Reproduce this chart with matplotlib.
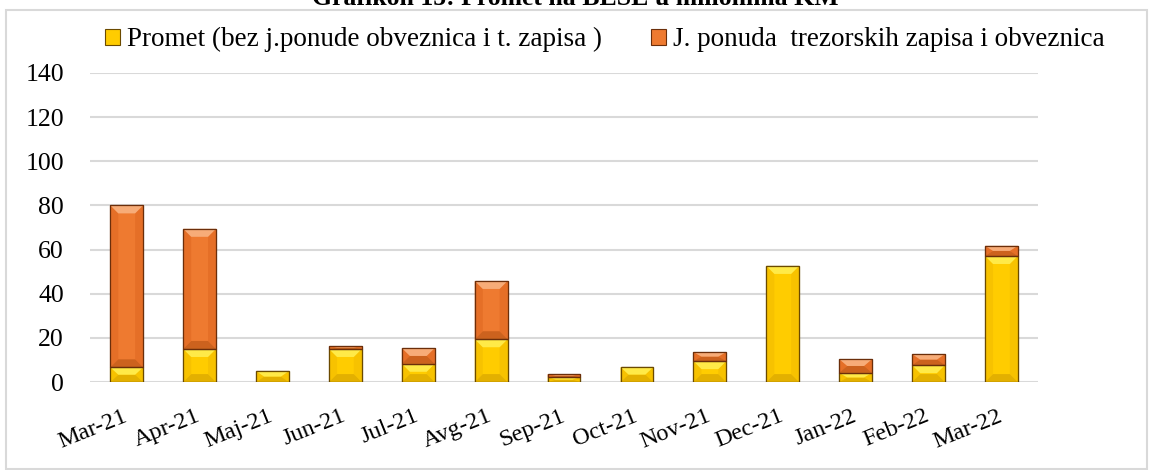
import numpy as np
import matplotlib.pyplot as plt
import matplotlib.transforms as mtransforms
from matplotlib.patches import Rectangle, Polygon

plt.rcParams['font.family'] = ['Liberation Serif', 'DejaVu Serif']

months = ['Mar-21', 'Apr-21', 'Maj-21', 'Jun-21', 'Jul-21', 'Avg-21', 'Sep-21',
          'Oct-21', 'Nov-21', 'Dec-21', 'Jan-22', 'Feb-22', 'Mar-22']
promet = [6.7, 15.0, 5.0, 15.0, 8.3, 19.4, 2.3, 6.8, 9.5, 52.6, 4.2, 7.7, 57.1]
ponuda = [73.3, 54.4, 0.0, 1.3, 7.1, 26.4, 1.3, 0.0, 4.1, 0.0, 6.2, 5.0, 4.6]

label_promet = 'Promet (bez j.ponude obveznica i t. zapisa )'
label_ponuda = 'J. ponuda  trezorskih zapisa i obveznica'

# colours: mid, top bevel, bottom bevel, sides, edge
yel = ('#FFCC00', '#FFEA48', '#E3B000', '#F7C200', '#6b4a00')
ora = ('#EE7A30', '#F7AC78', '#CC621E', '#E56F27', '#6b2e0a')

fig = plt.figure(figsize=(11.5, 4.7), dpi=100)
ax = fig.add_axes([0.0785, 0.187, 0.824, 0.658])

x = np.arange(len(months))
w = 0.45
b1 = ax.bar(x, promet, w, color=yel[0], edgecolor=yel[4], linewidth=0.8,
            label=label_promet, zorder=3)
b2 = ax.bar(x, ponuda, w, bottom=promet, color=ora[0], edgecolor=ora[4],
            linewidth=0.8, label=label_ponuda, zorder=3)

ax.set_xlim(-0.5, len(months) - 0.5)
ax.set_ylim(0, 140)

# bevel look, sizes in pixels converted to data units
px_x = 1.0 / 72.85
px_y = 140.0 / 309.0


def bevel(rect, cols):
    h = rect.get_height()
    if h <= 0:
        return
    x0 = rect.get_x()
    x1 = x0 + rect.get_width()
    y0 = rect.get_y()
    y1 = y0 + h
    dv = min(8 * px_y, h / 2)
    dh = min(8 * px_x, rect.get_width() / 2)
    top = [(x0, y1), (x1, y1), (x1 - dh, y1 - dv), (x0 + dh, y1 - dv)]
    bot = [(x0, y0), (x1, y0), (x1 - dh, y0 + dv), (x0 + dh, y0 + dv)]
    left = [(x0, y0), (x0, y1), (x0 + dh, y1 - dv), (x0 + dh, y0 + dv)]
    right = [(x1, y0), (x1, y1), (x1 - dh, y1 - dv), (x1 - dh, y0 + dv)]
    for pts, c in [(left, cols[3]), (right, cols[3]), (bot, cols[2]), (top, cols[1])]:
        ax.add_patch(Polygon(pts, closed=True, facecolor=c, edgecolor='none', zorder=3.5))
    ax.add_patch(Rectangle((x0, y0), x1 - x0, h, fill=False, edgecolor=cols[4],
                           linewidth=0.9, zorder=3.6))


for r in b1:
    bevel(r, yel)
for r in b2:
    bevel(r, ora)

ax.set_yticks(range(0, 141, 20))
ax.yaxis.grid(True, color='#d9d9d9', linewidth=1.5, zorder=0)
ax.set_axisbelow(True)
for s in ax.spines.values():
    s.set_visible(False)
ax.tick_params(axis='both', length=0)
ax.tick_params(axis='y', pad=19, labelsize=18.5)
ax.set_xticks(x)
ax.set_xticklabels(months, rotation=22, ha='right', rotation_mode='anchor', fontsize=17.5)
ax.tick_params(axis='x', pad=17)
shift = mtransforms.ScaledTranslation(-3 / 72, 0, fig.dpi_scale_trans)
for lab in ax.get_xticklabels():
    lab.set_transform(lab.get_transform() + shift)

ax.legend(loc='center', bbox_to_anchor=(0.543, 1.107), ncol=2, frameon=False,
          fontsize=19.5, handlelength=0.55, handleheight=0.55, handletextpad=0.25,
          columnspacing=1.8, borderaxespad=0)

fig.text(0.5, 0.9894, 'Grafikon 15: Promet na BESE u milionima KM', ha='center',
         va='baseline', fontsize=18.5, fontweight='bold')

# outer chart frame
fig.patches.append(Rectangle((0.005, 0.002), 0.992, 0.976, transform=fig.transFigure,
                             fill=False, edgecolor='#d9d9d9', linewidth=1.5))

fig.savefig('out.png', dpi=100)
